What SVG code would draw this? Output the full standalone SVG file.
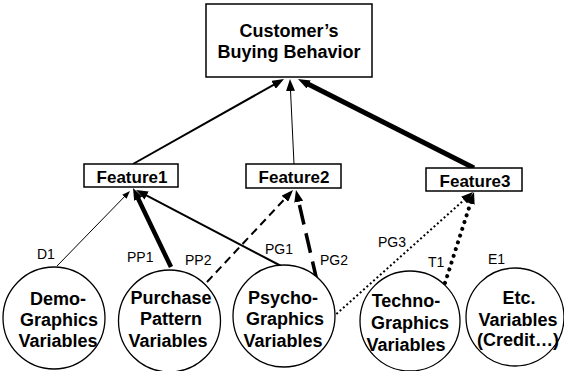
<svg xmlns="http://www.w3.org/2000/svg" width="564" height="371" viewBox="0 0 564 371">
<style>
.box{fill:#fff;stroke:#000;stroke-width:1.5}
.circ{fill:#fff;stroke:#000;stroke-width:1.3}
.bt{font-family:"Liberation Sans",Arial,sans-serif;font-weight:bold;fill:#000;text-anchor:middle}
.ct{font-size:18px}
.lbl{font-family:"Liberation Sans",Arial,sans-serif;font-size:14px;fill:#000}
.c{fill:none;stroke:#000}
</style>
<defs>
<marker id="ah" markerUnits="userSpaceOnUse" markerWidth="12" markerHeight="9" refX="3" refY="4.5" orient="auto"><path d="M0,0 L12,4.5 L0,9 z" fill="#000"/></marker>
<marker id="ahs" markerUnits="userSpaceOnUse" markerWidth="8" markerHeight="6" refX="2" refY="3" orient="auto"><path d="M0,0 L8,3 L0,6 z" fill="#000"/></marker>
</defs>
<rect width="564" height="371" fill="#fff"/>
<g id="connectors">
<line class="c" x1="133" y1="164" x2="276.2" y2="83.4" stroke-width="2" marker-end="url(#ah)"/>
<line class="c" x1="294" y1="164" x2="290.4" y2="88" stroke-width="1" marker-end="url(#ah)"/>
<line class="c" x1="474" y1="168" x2="306" y2="83.1" stroke-width="5" marker-end="url(#ah)"/>
<line class="c" x1="57" y1="266" x2="125.8" y2="195.3" stroke-width="1" marker-end="url(#ahs)"/>
<line class="c" x1="171" y1="267" x2="136.9" y2="196.1" stroke-width="4.5" marker-end="url(#ah)"/>
<line class="c" x1="283" y1="267" x2="144" y2="194.2" stroke-width="2" marker-end="url(#ah)"/>
<line class="c" x1="207" y1="282" x2="286.9" y2="196.6" stroke-width="2" stroke-dasharray="8 5" marker-end="url(#ah)"/>
<line class="c" x1="317" y1="281" x2="298" y2="198.8" stroke-width="3.5" stroke-dasharray="20 9" marker-end="url(#ah)"/>
<line class="c" x1="333" y1="317" x2="466.3" y2="198" stroke-width="2" stroke-dasharray="2 2.5" marker-end="url(#ah)"/>
<line class="c" x1="445" y1="283" x2="471.3" y2="200.6" stroke-width="4" stroke-dasharray="0.1 7" stroke-linecap="round" marker-end="url(#ah)"/>
<text class="lbl" x="37" y="259">D1</text>
<text class="lbl" x="127" y="262">PP1</text>
<text class="lbl" x="185" y="265">PP2</text>
<text class="lbl" x="265" y="254">PG1</text>
<text class="lbl" x="320" y="265">PG2</text>
<text class="lbl" x="378" y="247">PG3</text>
<text class="lbl" x="428" y="267">T1</text>
<text class="lbl" x="488" y="264">E1</text>
</g>
<g id="top">
<rect class="box" x="206" y="4" width="166" height="73"/>
<text class="bt" x="289" y="37" font-size="18">Customer’s</text>
<text class="bt" x="289" y="58" font-size="18">Buying Behavior</text>
</g>
<g id="feature1">
<rect class="box" x="84" y="164" width="94" height="23"/>
<text class="bt" x="132" y="183" font-size="17">Feature1</text>
</g>
<g id="feature2">
<rect class="box" x="246" y="164" width="95" height="24"/>
<text class="bt" x="294" y="183" font-size="17">Feature2</text>
</g>
<g id="feature3">
<rect class="box" x="426" y="168" width="96" height="23"/>
<text class="bt" x="475" y="187" font-size="17">Feature3</text>
</g>
<g id="demo">
<circle class="circ" cx="54" cy="318" r="51"/>
<text class="bt ct" x="58" y="305">Demo-</text>
<text class="bt ct" x="59" y="326">Graphics</text>
<text class="bt ct" x="58" y="347">Variables</text>
</g>
<g id="purchase">
<circle class="circ" cx="169.5" cy="321" r="51"/>
<text class="bt ct" x="171" y="304">Purchase</text>
<text class="bt ct" x="171" y="325">Pattern</text>
<text class="bt ct" x="168" y="347">Variables</text>
</g>
<g id="psycho">
<circle class="circ" cx="284" cy="316" r="51"/>
<text class="bt ct" x="283" y="304">Psycho-</text>
<text class="bt ct" x="285" y="325">Graphics</text>
<text class="bt ct" x="283" y="347">Variables</text>
</g>
<g id="techno">
<circle class="circ" cx="410" cy="321" r="50"/>
<text class="bt ct" x="406" y="307">Techno-</text>
<text class="bt ct" x="410" y="329">Graphics</text>
<text class="bt ct" x="406" y="351">Variables</text>
</g>
<g id="etc">
<circle class="circ" cx="515" cy="317" r="49"/>
<text class="bt ct" x="519" y="304">Etc.</text>
<text class="bt ct" x="518" y="326">Variables</text>
<text class="bt ct" x="518" y="346">(Credit…)</text>
</g>
</svg>
